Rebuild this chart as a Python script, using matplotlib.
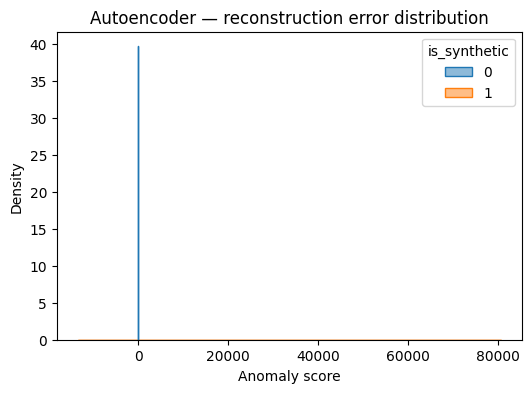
import matplotlib
matplotlib.use("Agg")
from matplotlib import pyplot as plt
import seaborn as sns
import pandas as pd

# reconstruction errors for real rows (tightly clustered near zero)
real_scores = [0.0365, 0.0387, 0.0402, 0.0417, 0.0431, 0.0439, 0.0446, 0.0454, 0.0461, 0.0468,
               0.0476, 0.0483, 0.0490, 0.0498, 0.0505, 0.0513, 0.0520, 0.0527, 0.0535, 0.0542,
               0.0550, 0.0564, 0.0579, 0.0594, 0.0609, 0.0631, 0.0653, 0.0682, 0.0719, 0.0764]

# reconstruction errors for synthetic rows (one huge outlier)
synth_scores = [0.05, 0.06, 0.07, 0.08, 0.09, 0.10, 0.11, 0.12, 0.13, 0.14,
                0.15, 0.16, 0.17, 0.18, 0.19, 0.20, 0.22, 0.24, 0.26, 0.28,
                0.30, 0.33, 0.36, 0.40, 0.44, 0.48, 0.53, 0.58, 0.64, 0.70,
                0.78, 0.86, 0.95, 1.05, 1.2, 1.4, 1.6, 1.9, 2.3, 2.8,
                3.5, 4.4, 5.6, 7.2, 9.5, 13.0, 18.0, 67190.0]

df = pd.DataFrame({
    'score': real_scores + synth_scores,
    'is_synthetic': [0] * len(real_scores) + [1] * len(synth_scores),
})

fig, ax = plt.subplots(figsize=(6, 4))
sns.kdeplot(data=df, x='score', hue='is_synthetic', fill=True, common_norm=False,
            alpha=0.5, ax=ax)
ax.set_title('Autoencoder — reconstruction error distribution')
ax.set_xlabel('Anomaly score')
ax.set_ylabel('Density')
fig.savefig('out.png', dpi=100, bbox_inches='tight')
